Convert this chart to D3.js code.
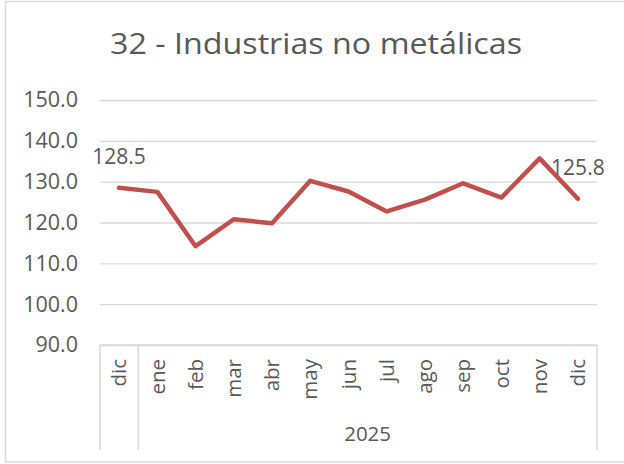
<!DOCTYPE html>
<html>
<head>
<meta charset="utf-8">
<script src="https://cdn.jsdelivr.net/npm/d3@7"></script>
<style>
	body { margin: 0; background: #fff; }
	text { font-family: "Open Sans", sans-serif; fill: #595959; }
	.grid line { stroke: #d9d9d9; stroke-width: 1.3; }
</style>
</head>
<body>
<div id="chart"></div>
<script>
//------------------------------------------ Data ------------------------------------------

var title = "32 - Industrias no metálicas";
var months = ["dic", "ene", "feb", "mar", "abr", "may", "jun", "jul", "ago", "sep", "oct", "nov", "dic"];
var values = [128.5, 127.5, 114.2, 120.8, 119.8, 130.2, 127.6, 122.7, 125.6, 129.6, 126.1, 135.7, 125.8];
var groupLabels = ["", "2025"];
var groupSizes = [1, 12];
var yTicks = [90, 100, 110, 120, 130, 140, 150];

//------------------------------------------ Set up svg ------------------------------------------

var width = 624, height = 464;
var plot = { left: 100, right: 597, top: 100, bottom: 345 };

var svg = d3.select("#chart")
	.append("svg")
	.attr("width", width)
	.attr("height", height);

//Chart border (right side runs off the picture)
svg.append("rect")
	.attr("x", 5.5)
	.attr("y", 1.5)
	.attr("width", 640)
	.attr("height", 460.5)
	.style("fill", "none")
	.style("stroke", "#d9d9d9")
	.style("stroke-width", 1.5);

//------------------------------------------ Scales ------------------------------------------

var x = d3.scaleBand()
	.domain(d3.range(months.length))
	.range([plot.left, plot.right]);

var y = d3.scaleLinear()
	.domain([90, 150])
	.range([plot.bottom, plot.top]);

//------------------------------------------ Title ------------------------------------------

svg.append("text")
	.attr("x", 110)
	.attr("y", 54)
	.attr("textLength", 412)
	.attr("lengthAdjust", "spacingAndGlyphs")
	.style("font-size", "28.5px")
	.text(title);

//------------------------------------------ Axes ------------------------------------------

//Gridlines
var yAxis = d3.axisLeft(y)
	.tickValues(yTicks)
	.tickSize(-(plot.right - plot.left))
	.tickPadding(22)
	.tickFormat(d3.format(".1f"));

svg.append("g")
	.attr("class", "grid")
	.attr("transform", "translate(" + plot.left + ",0)")
	.call(yAxis)
	.call(function(g) { g.select(".domain").remove(); })
	.call(function(g) {
		g.selectAll("text")
			.style("font-size", "21.5px")
			.style("font-family", "Open Sans")
			.attr("fill", "#595959");
	});

//Month labels, rotated
svg.selectAll(".monthText")
	.data(months)
	.enter().append("text")
	.attr("class", "monthText")
	.attr("transform", function(d, i) {
		return "translate(" + (x(i) + x.bandwidth()/2) + "," + 359 + ") rotate(-90)";
	})
	.attr("dy", "0.35em")
	.style("text-anchor", "end")
	.style("font-size", "20.5px")
	.text(function(d) { return d; });

//Group boundaries and year labels
var bounds = [0];
groupSizes.forEach(function(n, i) { bounds.push(bounds[i] + n); });

svg.selectAll(".groupLine")
	.data(bounds)
	.enter().append("line")
	.attr("class", "groupLine")
	.attr("x1", function(d) { return d < months.length ? x(d) : plot.right; })
	.attr("x2", function(d) { return d < months.length ? x(d) : plot.right; })
	.attr("y1", plot.bottom)
	.attr("y2", 450)
	.style("stroke", "#d9d9d9")
	.style("stroke-width", 1.5);

svg.selectAll(".groupText")
	.data(groupLabels)
	.enter().append("text")
	.attr("class", "groupText")
	.attr("x", function(d, i) {
		var x0 = x(bounds[i]);
		var x1 = bounds[i+1] < months.length ? x(bounds[i+1]) : plot.right;
		return (x0 + x1)/2;
	})
	.attr("y", 441)
	.style("text-anchor", "middle")
	.style("font-size", "20.5px")
	.text(function(d) { return d; });

//Horizontal axis line
svg.append("line")
	.attr("x1", plot.left)
	.attr("x2", plot.right)
	.attr("y1", y(90))
	.attr("y2", y(90))
	.style("stroke", "#d9d9d9")
	.style("stroke-width", 1.5);

//------------------------------------------ Line ------------------------------------------

var line = d3.line()
	.x(function(d, i) { return x(i) + x.bandwidth()/2; })
	.y(function(d) { return y(d); });

svg.append("path")
	.datum(values)
	.attr("d", line)
	.style("fill", "none")
	.style("stroke", "#c0504d")
	.style("stroke-width", 4.5)
	.style("stroke-linejoin", "round")
	.style("stroke-linecap", "round");

//Data labels on the first and last point
var labelIdx = [0, values.length - 1];
svg.selectAll(".dataLabel")
	.data(labelIdx)
	.enter().append("text")
	.attr("class", "dataLabel")
	.attr("x", function(i) { return x(i) + x.bandwidth()/2; })
	.attr("y", function(i) { return y(values[i]) - 24; })
	.style("text-anchor", "middle")
	.style("font-size", "21px")
	.text(function(i) { return d3.format(".1f")(values[i]); });
</script>
</body>
</html>
